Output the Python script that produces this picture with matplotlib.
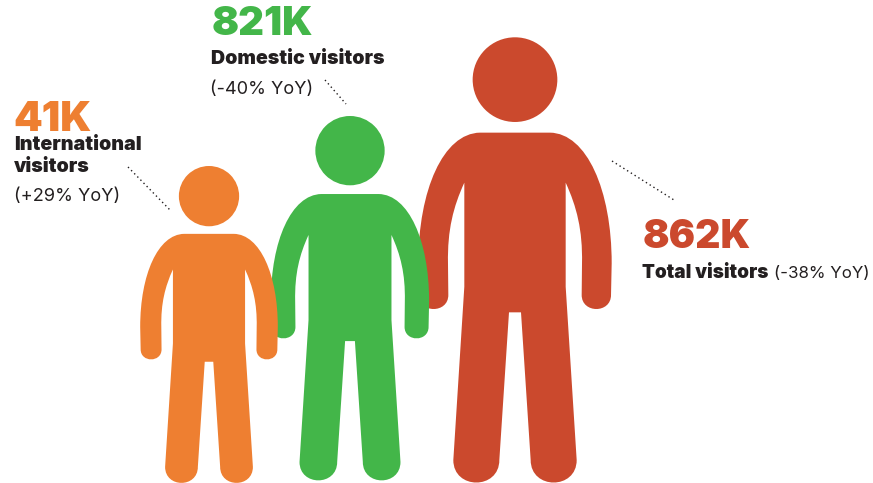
import matplotlib
matplotlib.use("Agg")
import matplotlib.pyplot as plt
from matplotlib.path import Path
from matplotlib.patches import PathPatch, Circle

# Visitor figures
groups = ["International", "Domestic", "Total"]
visitors_k = [41, 821, 862]
yoy_pct = [29, -40, -38]

ORANGE, GREEN, RED = "#EE7F31", "#43B649", "#CB492D"
INK = "#231F20"
colors = [ORANGE, GREEN, RED]

# Placement of each person: centre x, top of head, bottom of feet, stacking order
people = [(209, 166, 483, 4), (350, 116, 480.5, 3), (515, 37.3, 482.7, 2)]

# Right half of the body outline in design units (axis of symmetry at x=345, head top y=22)
L, C = Path.LINETO, Path.CURVE4
half = [
    (Path.MOVETO, (345, 308)),
    (L, (450, 308)),
    (C, (560, 310)), (C, (635, 480)), (C, (635, 700)),
    (L, (633, 795)),
    (C, (633, 851)), (C, (545, 851)), (C, (545, 795)),
    (L, (546, 700)),
    (C, (548, 600)), (C, (530, 530)), (C, (497, 458)),
    (L, (497, 770)),
    (L, (530, 1290)),
    (C, (530, 1380)), (C, (392, 1380)), (C, (392, 1290)),
    (L, (363, 847)),
    (L, (345, 847)),
]
UNIT_TOP, UNIT_BOTTOM, UNIT_AXIS = 22, 1358, 345
HEAD_Y, HEAD_R = 149, 127


def person(ax, cx, top, bottom, z, color):
    s = (bottom - top) / (UNIT_BOTTOM - UNIT_TOP)
    tx = lambda p: (cx + (p[0] - UNIT_AXIS) * s, top + (p[1] - UNIT_TOP) * s)
    codes = [c for c, _ in half]
    pts = [p for _, p in half]
    verts = [tx(p) for p in pts]
    # Mirror the right half to close the outline on the left
    for i in range(len(pts) - 1, 0, -1):
        p = pts[i - 1]
        verts.append(tx((2 * UNIT_AXIS - p[0], p[1])))
        codes.append(codes[i])
    verts.append(verts[0])
    codes.append(Path.CLOSEPOLY)
    ax.add_patch(PathPatch(Path(verts, codes), fc=color, ec="none", zorder=z))
    ax.add_patch(Circle(tx((UNIT_AXIS, HEAD_Y)), HEAD_R * s, fc=color, ec="none", zorder=z))


fig = plt.figure(figsize=(8.73, 4.83), dpi=100, facecolor="white")
ax = fig.add_axes([0, 0, 1, 1])
ax.set_xlim(0, 873)
ax.set_ylim(483, 0)
ax.axis("off")

for (cx, top, bottom, z), col in zip(people, colors):
    person(ax, cx, top, bottom, z, col)

# Dotted leaders from the captions to the figures
leaders = [((128, 167), (170, 210)), ((325, 80), (346, 104)), ((612, 161), (674, 200))]
for a, b in leaders:
    ax.plot([a[0], b[0]], [a[1], b[1]], color=INK, lw=1.0, ls=(0, (1, 2.2)), zorder=6)

FONT = "Inter"


def fmt_yoy(v):
    return f"({v:+d}% YoY)"


def big(x, y, i, size=28.8):
    ax.text(x, y, f"{visitors_k[i]}K", color=colors[i], fontsize=size, fontweight=900,
            family=FONT, va="baseline", ha="left", zorder=7)


def bold(x, y, s, size=14.1):
    return ax.text(x, y, s, color=INK, fontsize=size, fontweight=900, family=FONT,
                   va="baseline", ha="left", zorder=7)


def reg(x, y, s, size=13.1):
    return ax.text(x, y, s, color=INK, fontsize=size, family=FONT,
                   va="baseline", ha="left", zorder=7)


big(13, 131, 0, 29.5)
bold(14, 150, f"{groups[0]}")
bold(14, 172, "visitors")
reg(13.5, 201, fmt_yoy(yoy_pct[0]))

big(211.5, 35, 1)
bold(211, 64, f"{groups[1]} visitors")
reg(210.5, 94, fmt_yoy(yoy_pct[1]))

big(643, 248, 2, 28.2)
t = bold(642.5, 278, f"{groups[2]} visitors", 13.6)
fig.canvas.draw()
end = t.get_window_extent().x1
reg(end + 5, 278, fmt_yoy(yoy_pct[2]), 12.2)

fig.savefig("out.png", dpi=100, facecolor="white")
